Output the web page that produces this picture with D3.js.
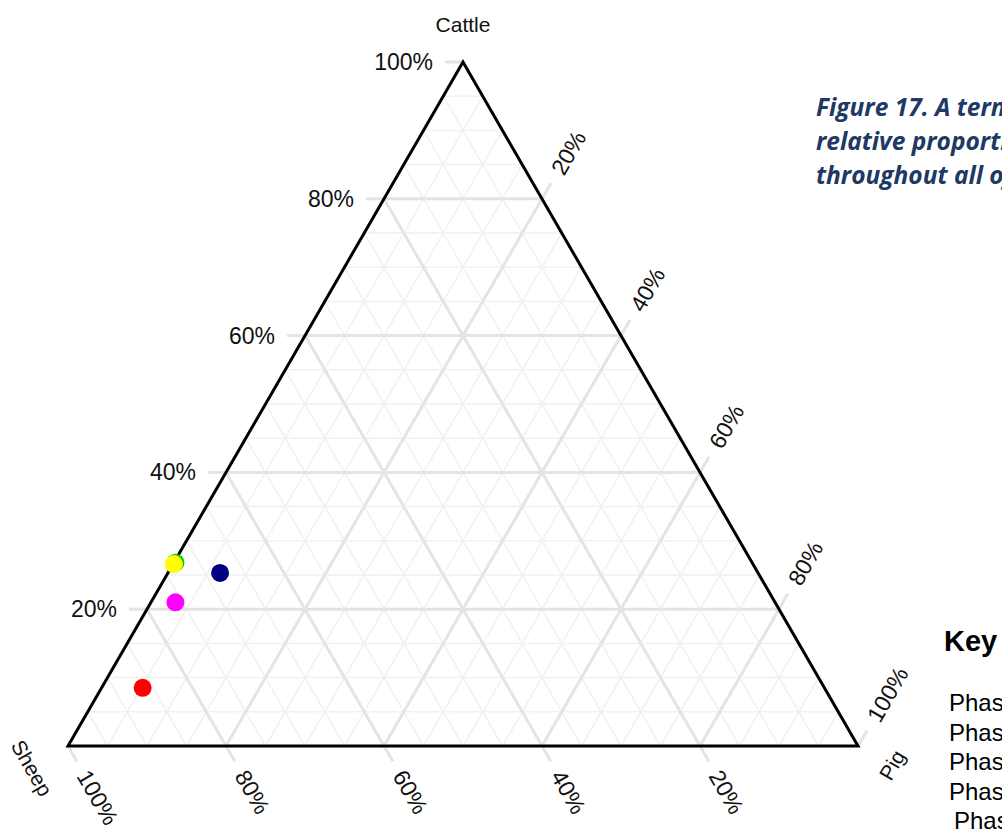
<!DOCTYPE html>
<meta charset="utf-8">
<style>
body { margin: 0; background: #fff; overflow: hidden; }
svg { display: block; font-family: 'Liberation Sans', Arial, sans-serif; }
.grid-minor { stroke: #f1f1f1; stroke-width: 1.5px; fill: none; }
.grid-major { stroke: #e4e4e4; stroke-width: 3px; fill: none; }
.border { stroke: #000; stroke-width: 3px; fill: none; stroke-linejoin: miter; }
.tick-label { font-size: 23px; fill: #111; }
.axis-title { font-size: 21px; fill: #111; }
.caption { font-family: 'Open Sans', Lato, sans-serif; font-style: italic; font-weight: bold; font-size: 24.5px; fill: #203864; }
.key-title { font-size: 29px; font-weight: bold; }
.key-item { font-size: 24px; }
</style>
<body>
<svg width="1002" height="831"></svg>
<script src="https://cdnjs.cloudflare.com/ajax/libs/d3/7.8.5/d3.min.js"></script>
<script>

// data (fractions of cattle / sheep / pig)
var phases = ["Phase 1", "Phase 2", "Phase 3", "Phase 4", "Phase 5"];
var phaseColors = ["#ff0000", "#ff00ff", "#00cc00", "#ffff00", "#000080"];
var cattle = [0.085, 0.210, 0.268, 0.266, 0.253];
var sheep  = [0.863, 0.759, 0.730, 0.733, 0.681];
var pig    = [0.052, 0.031, 0.002, 0.001, 0.066];

var tickValues = [0.2, 0.4, 0.6, 0.8, 1.0];
var captionLines = [
    "Figure 17. A ternary plot showing the",
    "relative proportions of cattle, sheep and pig",
    "throughout all of the phases"
];

var svg = d3.select("svg");

// plot triangle: cattle at top, sheep bottom left, pig bottom right
var xs = d3.scaleLinear().domain([0, 1]).range([68, 858]);
var ys = d3.scaleLinear().domain([0, 1]).range([746, 62]);

function proj(c, s, p) {
    var t = c + s + p;
    c /= t; p /= t;
    return [xs(p + c / 2), ys(c)];
}

var fmt = d3.format(".0%");
var minorSteps = d3.range(1, 20).map(function(i) { return i / 20; });

var g = svg.append("g");

function gridLines(vals, cls) {
    var lines = [];
    vals.forEach(function(v) {
        lines.push([proj(v, 1 - v, 0), proj(v, 0, 1 - v)]);   // cattle const
        lines.push([proj(1 - v, 0, v), proj(0, 1 - v, v)]);   // pig const
        lines.push([proj(1 - v, v, 0), proj(0, v, 1 - v)]);   // sheep const
    });
    g.append("g").selectAll("line")
        .data(lines)
        .enter().append("line")
        .attr("class", cls)
        .attr("x1", function(d) { return d[0][0]; })
        .attr("y1", function(d) { return d[0][1]; })
        .attr("x2", function(d) { return d[1][0]; })
        .attr("y2", function(d) { return d[1][1]; });
}

gridLines(minorSteps.filter(function(v) { return Math.round(v * 20) % 4 !== 0; }), "grid-minor");
gridLines(tickValues.filter(function(v) { return v < 1; }), "grid-major");

// ticks and labels for the three axes
var tickLen = 18, labelOff = 30;
var axes = [
    { name: "cattle", at: function(v) { return proj(v, 1 - v, 0); }, dir: [-1, 0], rot: 0, anchor: "end" },
    { name: "pig", at: function(v) { return proj(1 - v, 0, v); }, dir: [0.5, -0.866], rot: -60, anchor: "start" },
    { name: "sheep", at: function(v) { return proj(0, v, 1 - v); }, dir: [0.5, 0.866], rot: 60, anchor: "start" }
];

axes.forEach(function(ax) {
    var tg = g.append("g").attr("class", "ticks-" + ax.name);
    tg.selectAll("line")
        .data(tickValues)
        .enter().append("line")
        .attr("class", "grid-major")
        .attr("x1", function(v) { return ax.at(v)[0]; })
        .attr("y1", function(v) { return ax.at(v)[1]; })
        .attr("x2", function(v) { return ax.at(v)[0] + ax.dir[0] * tickLen; })
        .attr("y2", function(v) { return ax.at(v)[1] + ax.dir[1] * tickLen; });
    tg.selectAll("text")
        .data(tickValues)
        .enter().append("text")
        .attr("class", "tick-label")
        .attr("text-anchor", ax.anchor)
        .attr("dominant-baseline", "central")
        .attr("transform", function(v) {
            var p = ax.at(v);
            return "translate(" + (p[0] + ax.dir[0] * labelOff) + "," + (p[1] + ax.dir[1] * labelOff) + ") rotate(" + ax.rot + ")";
        })
        .text(fmt);
});

// triangle border
g.append("path")
    .attr("class", "border")
    .attr("d", d3.line()([proj(1, 0, 0), proj(0, 1, 0), proj(0, 0, 1)]) + "Z");

// axis titles
g.append("text").attr("class", "axis-title")
    .attr("text-anchor", "middle").attr("dominant-baseline", "central")
    .attr("transform", "translate(463,24)")
    .text("Cattle");
g.append("text").attr("class", "axis-title")
    .attr("text-anchor", "middle").attr("dominant-baseline", "central")
    .attr("transform", "translate(32,768) rotate(60)")
    .text("Sheep");
g.append("text").attr("class", "axis-title")
    .attr("text-anchor", "middle").attr("dominant-baseline", "central")
    .attr("transform", "translate(892,765) rotate(-60)")
    .text("Pig");

// points
var pts = phases.map(function(ph, i) {
    return { phase: ph, color: phaseColors[i], pos: proj(cattle[i], sheep[i], pig[i]) };
});
g.append("g").selectAll("circle")
    .data(pts)
    .enter().append("circle")
    .attr("cx", function(d) { return d.pos[0]; })
    .attr("cy", function(d) { return d.pos[1]; })
    .attr("r", 9)
    .attr("fill", function(d) { return d.color; });

// caption
svg.append("g").selectAll("text")
    .data(captionLines)
    .enter().append("text")
    .attr("class", "caption")
    .attr("x", 816)
    .attr("y", function(d, i) { return 116 + i * 34; })
    .text(function(d) { return d; });

// key
svg.append("text").attr("class", "key-title")
    .attr("x", 944).attr("y", 651).text("Key");
svg.append("g").selectAll("text")
    .data(phases)
    .enter().append("text")
    .attr("class", "key-item")
    .attr("x", function(d, i) { return i === 4 ? 954 : 949; })
    .attr("y", function(d, i) { return 711 + i * 29.5; })
    .text(function(d) { return d; });

</script>
</body>
